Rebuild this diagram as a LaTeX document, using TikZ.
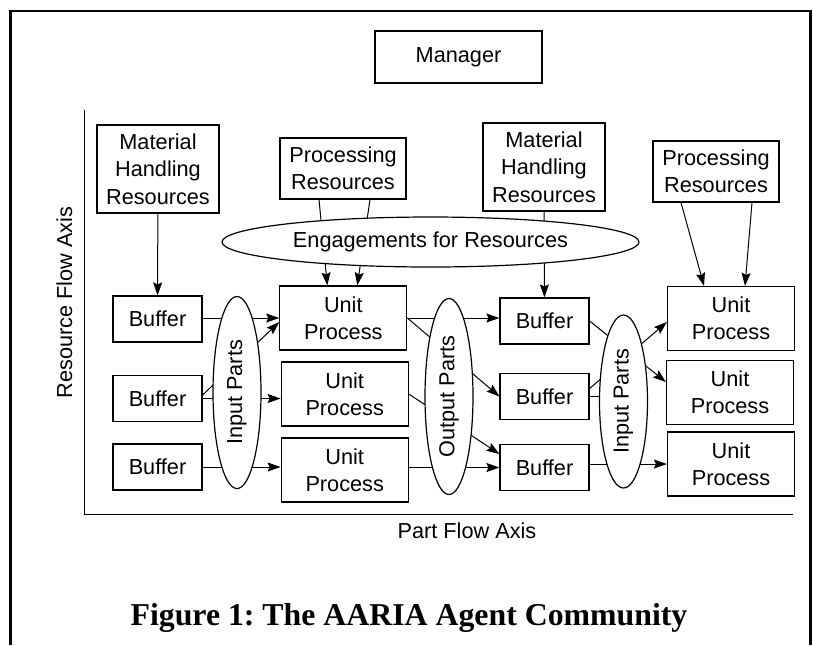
\documentclass[tikz,border=0pt]{standalone}
\usepackage{fontspec}
\setmainfont{Liberation Sans}
\newfontfamily\captionfont{Liberation Serif}
\usetikzlibrary{arrows.meta,shapes.geometric,backgrounds}
\frenchspacing

\begin{document}
\begin{tikzpicture}[x=0.5pt,y=-0.5pt]
\tikzstyle{every node}=[font=\fontsize{10.85}{13.7}\selectfont, align=center, inner sep=0pt]
\tikzstyle{agent}=[draw, line width=.6pt, fill=white]
\tikzstyle{buffer}=[agent, minimum width=44.5pt, minimum height=23pt]
\tikzstyle{unit}=[agent, minimum width=63.5pt, minimum height=32pt]
\tikzstyle{resource}=[agent, minimum width=63pt, minimum height=30.5pt]
\tikzstyle{handling}=[agent, minimum width=61pt, minimum height=44pt]
\tikzstyle{parts}=[agent, ellipse, rotate=90, minimum height=24pt]
\tikzstyle{link}=[line width=.5pt]
\tikzstyle{flow}=[link, -{Stealth[length=6.5pt,width=4.5pt,inset=1pt]}]
\useasboundingbox (0,0) rectangle (813,645);
% frame
\draw[line width=1.2pt] (10.5,645) -- (10.5,11) -- (810.5,11) -- (810.5,645);
\node (manager) at (458.5,57) [agent, minimum width=83.5pt, minimum height=26pt] {Manager};
% resources
\node (mhL) at (158,169) [handling] {Material\\Handling\\Resources};
\node (prL) at (343,168.5) [resource] {Processing\\Resources};
\node (mhR) at (544,167) [handling] {Material\\Handling\\Resources};
\node (prR) at (716,171.5) [resource] {Processing\\Resources};
\node (engage) at (430.5,242) [agent, ellipse, minimum width=208.5pt, minimum height=25pt] {Engagements for Resources};
% parts
\node (bL1) at (157.5,319) [buffer] {Buffer};
\node (bL2) at (157.5,398.5) [buffer] {Buffer};
\node (bL3) at (157.5,467) [buffer] {Buffer};
\node (inL) at (237,392.5) [parts, minimum width=96pt] {Input Parts};
\node (upL1) at (343.3,318) [unit] {Unit\\Process};
\node (upL2) at (344.7,394) [unit] {Unit\\Process};
\node (upL3) at (344.7,470) [unit] {Unit\\Process};
\node (outM) at (449,396.5) [parts, minimum width=98pt] {Output Parts};
\node (bM1) at (544.5,321) [buffer] {Buffer};
\node (bM2) at (544.5,396.5) [buffer] {Buffer};
\node (bM3) at (544.5,467.5) [buffer] {Buffer};
\node (inR) at (623.5,401.5) [parts, minimum width=86.5pt] {Input Parts};
\node (upR1) at (731,318.5) [unit] {Unit\\Process};
\node (upR2) at (730,392.5) [unit] {Unit\\Process};
\node (upR3) at (731,464) [unit] {Unit\\Process};
% axes
\draw[link] (84,110) -- (84,514) -- (793,514);
\node (resaxis) at (72,302.5) [anchor=base, rotate=90] {Resource Flow Axis};
\node (partaxis) at (467,538) [anchor=base] {Part Flow Axis};
\node (caption) at (409,625) [anchor=base, font=\captionfont\bfseries\fontsize{15.9}{19}\selectfont] {Figure 1: The AARIA Agent Community};
\begin{pgfonlayer}{background}
\draw[flow] (mhL) -- (bL1);
\draw[flow] ([xshift=-12pt]prL.south) -- ([xshift=-8pt]upL1.north);
\draw[flow] ([xshift=13.5pt]prL.south) -- ([xshift=7pt]upL1.north);
\draw[flow] (mhR) -- (bM1);
\draw[flow] ([xshift=-17.5pt]prR.south) -- ([xshift=-13.5pt]upR1.north);
\draw[flow] ([xshift=18pt]prR.south) -- ([xshift=7pt]upR1.north);
% input parts, left
\draw[flow] (upL1.west -| bL1.east) -- (upL1.west);
\draw[flow] ([yshift=1.75pt]bL2.east) -- ([yshift=-2pt]upL1.west);
\draw[flow] (bL2.east) -- (bL2.east -| upL2.west);
\draw[flow] (bL3.east) -- (bL3.east -| upL3.west);
% output parts
\draw[flow] (upL1.east) -- (upL1.east -| bM1.west);
\draw[flow] (upL1.east) -- (bM2.west);
\draw[flow] (upL2.east) -- ([yshift=6.75pt]bM3.west);
\draw[flow] (bM3.west -| upL3.east) -- (bM3.west);
% input parts, right
\draw[flow] (bM1.east) -- ([yshift=5.25pt]upR2.west);
\draw[flow] ([yshift=4pt]bM2.east) -- ([yshift=-1.75pt]upR1.west);
\draw[link] (bM2.east) -- (bM2.east -| inR.center);
\draw[flow] (upR3.west -| bM3.east) -- (upR3.west);
\end{pgfonlayer}
\end{tikzpicture}
\end{document}
